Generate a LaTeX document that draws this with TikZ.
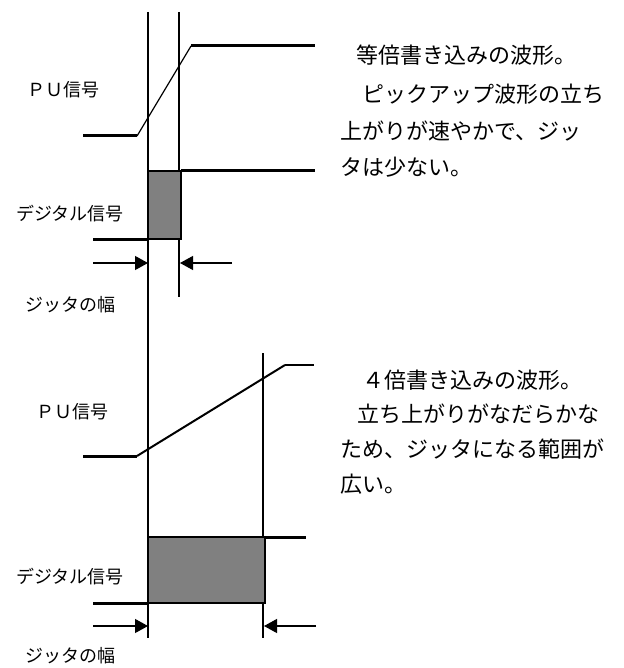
\documentclass[tikz,border=0pt]{standalone}
\usepackage{fontspec}
\setmainfont{Noto Sans CJK JP}
\usetikzlibrary{arrows.meta}
\begin{document}
\begin{tikzpicture}[x=1pt,y=-1pt,
  sig/.style={line width=3pt},
  thin/.style={line width=1.2pt},
  vline/.style={line width=1.2pt},
  jbox/.style={draw=black,line width=1.3pt,fill=black!50},
  jarrow/.style={line width=1.2pt,-{Triangle[length=13pt,width=14pt]}},
  lab/.style={inner sep=0pt,font=\fontsize{18}{20}\selectfont},
  desc/.style={inner sep=0pt,anchor=west,font=\fontsize{22}{26}\selectfont}]
\useasboundingbox (0,0) rectangle (623,668);
% vertical guide lines
\coordinate (vA1) at (148,12); \coordinate (vA2) at (148,638);
\coordinate (vB1) at (179,12); \coordinate (vB2) at (179,297);
\coordinate (vC1) at (263,353); \coordinate (vC2) at (263,638);
\draw[vline] (vA1) -- (vA2);
\draw[vline] (vB1) -- (vB2);
\draw[vline] (vC1) -- (vC2);
% top PU signal
\coordinate (p1a) at (83,136); \coordinate (p1b) at (137,136);
\coordinate (p1c) at (191,46); \coordinate (p1d) at (315,46);
\draw[sig] (p1a) -- (p1b);
\draw[thin] (p1b) -- (p1c);
\draw[sig] (p1c) -- (p1d);
% top digital signal
\coordinate (d1a) at (93,239); \coordinate (d1b) at (148,239);
\coordinate (d1c) at (181,171); \coordinate (d1d) at (315,171);
\draw[sig] (d1a) -- (d1b);
\draw[jbox] (d1b) rectangle (d1c);
\draw[sig] (d1c) -- (d1d);
% top arrows
\coordinate (a1a) at (93,263); \coordinate (a1b) at (148,263);
\coordinate (a1c) at (232,263); \coordinate (a1d) at (180,263);
\draw[jarrow] (a1a) -- (a1b);
\draw[jarrow] (a1c) -- (a1d);
% bottom PU signal
\coordinate (p2a) at (83,456); \coordinate (p2b) at (137,456);
\coordinate (p2c) at (285,365); \coordinate (p2d) at (314,365);
\draw[sig] (p2a) -- (p2b);
\draw[line width=2pt] (p2b) -- (p2c);
\draw[thin] (p2c) -- (p2d);
% bottom digital signal
\coordinate (d2a) at (93,603); \coordinate (d2b) at (148,603);
\coordinate (d2c) at (265,537); \coordinate (d2d) at (306,537);
\draw[sig] (d2a) -- (d2b);
\draw[jbox] (d2b) rectangle (d2c);
\draw[sig] (d2c) -- (d2d);
% bottom arrows
\coordinate (a2a) at (93,626); \coordinate (a2b) at (148,626);
\coordinate (a2c) at (316,626); \coordinate (a2d) at (264,626);
\draw[jarrow] (a2a) -- (a2b);
\draw[jarrow] (a2c) -- (a2d);
% left labels
\node[lab] (pu1) at (63,90) {ＰＵ信号};
\node[lab] (dg1) at (70,214) {デジタル信号};
\node[lab] (jw1) at (70,305) {ジッタの幅};
\node[lab] (pu2) at (72,412) {ＰＵ信号};
\node[lab] (dg2) at (70,577) {デジタル信号};
\node[lab] (jw2) at (70,656) {ジッタの幅};
% right descriptions
\node[desc] (t1a) at (356,55) {等倍書き込みの波形。};
\node[desc] (t1b) at (362,94) {ピックアップ波形の立ち};
\node[desc] (t1c) at (340,131) {上がりが速やかで、ジッ};
\node[desc] (t1d) at (340,167) {タは少ない。};
\node[desc] (t2a) at (362,380) {４倍書き込みの波形。};
\node[desc] (t2b) at (357,414) {立ち上がりがなだらかな};
\node[desc] (t2c) at (340,449) {ため、ジッタになる範囲が};
\node[desc] (t2d) at (340,484) {広い。};
\end{tikzpicture}
\end{document}
